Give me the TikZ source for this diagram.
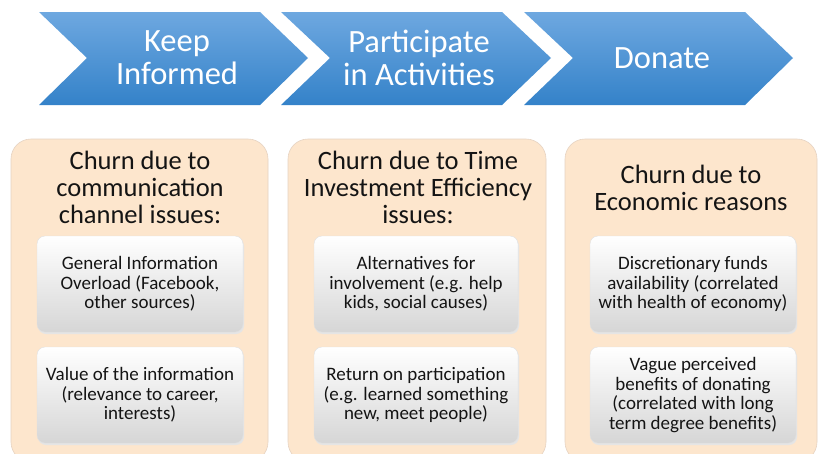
\documentclass[tikz,border=0pt]{standalone}
\usepackage{fontspec}
\setmainfont{Carlito}
\definecolor{chevtop}{HTML}{6EA8E0}
\definecolor{chevbot}{HTML}{3482C9}
\definecolor{peach}{HTML}{FDE6CD}
\definecolor{peachedge}{HTML}{E6D3C2}
\definecolor{innerbot}{HTML}{D6D6D6}
\tikzset{
  chev/.style={top color=chevtop,bottom color=chevbot},
  chevtext/.style={text=white,align=center,font=\fontsize{32.5}{33}\selectfont,inner sep=0pt},
  peachbox/.style={fill=peach,draw=peachedge,line width=0.6pt,rounded corners=20pt},
  innerbox/.style={top color=white,middle color=white,bottom color=innerbot,draw=black!12,line width=0.4pt,rounded corners=8pt},
  innershadow/.style={fill=black!10,rounded corners=8pt},
  titletext/.style={align=center,font=\fontsize{26.5}{27}\selectfont,text=black!92,inner sep=0pt},
  itemtext/.style={align=center,font=\fontsize{19}{19.7}\selectfont,text=black!92,inner sep=0pt}
}
\begin{document}
\begin{tikzpicture}[x=1pt,y=-1pt]
\useasboundingbox (0,0) rectangle (825,453);
\clip (0,0) rectangle (825,453);
\fill[white] (0,0) rectangle (825,453);
% chevrons
\shade[chev] (39,12) -- (260,12) -- (308,58) -- (260,105) -- (39,105) -- (87,58) -- cycle;
\shade[chev] (281,12) -- (502,12) -- (551,58) -- (502,105) -- (281,105) -- (330,58) -- cycle;
\shade[chev] (524,12) -- (745,12) -- (793,58) -- (745,105) -- (524,105) -- (573,58) -- cycle;
\node[chevtext] (c1) at (177,58) {Keep\\Informed};
\node[chevtext] (c2) at (419,58) {Participate\\in Activities};
\node[chevtext] (c3) at (662,58) {Donate};
% peach boxes
\draw[peachbox] (11,139) rectangle (268,462);
\draw[peachbox] (288,139) rectangle (546,462);
\draw[peachbox] (565,139) rectangle (817,462);
% inner boxes
\foreach \xa/\xb in {37/243,314/518,590/796}{
  \fill[innershadow] (\xa+1,238) rectangle (\xb+1,334);
  \shade[innerbox] (\xa,236) rectangle (\xb,332);
  \fill[innershadow] (\xa+1,349) rectangle (\xb+1,445);
  \shade[innerbox] (\xa,347) rectangle (\xb,443);
}
% titles
\node[titletext] (t1) at (140,187) {Churn due to\\communication\\channel issues:};
\node[titletext] (t2) at (418,187) {Churn due to Time\\Investment Efficiency\\issues:};
\node[titletext] (t3) at (691,188) {Churn due to\\Economic reasons};
% items
\node[itemtext] (i11) at (140,284) {General Information\\Overload (Facebook,\\other sources)};
\node[itemtext] (i12) at (140,395) {Value of the information\\(relevance to career,\\interests)};
\node[itemtext] (i21) at (416,284) {Alternatives for\\involvement (e.g. help\\kids, social causes)};
\node[itemtext] (i22) at (416,395) {Return on participation\\(e.g. learned something\\new, meet people)};
\node[itemtext] (i31) at (693,284) {Discretionary funds\\availability (correlated\\with health of economy)};
\node[itemtext] (i32) at (693,395) {Vague perceived\\benefits of donating\\(correlated with long\\term degree benefits)};
\end{tikzpicture}
\end{document}
